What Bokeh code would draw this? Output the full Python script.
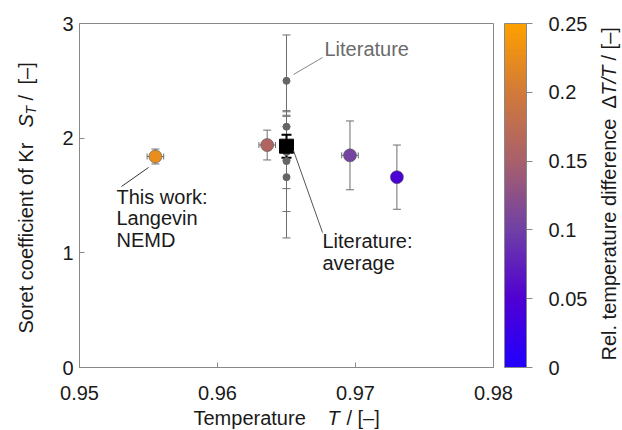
import math
import numpy as np
from bokeh.plotting import figure
from bokeh.layouts import row, column
from bokeh.models import (ColumnDataSource, ColorBar, LinearColorMapper, FixedTicker,
                          Whisker, TeeHead, Label, Range1d)
from bokeh.core.properties import value
from bokeh.transform import transform
from bokeh.embed import file_html
from bokeh.resources import INLINE

# ---------------- data ----------------
sim_T = [0.9555, 0.9636, 0.9696, 0.9730]
sim_T_err = [0.0006, 0.0006, 0.0006, 0.0002]
sim_st = [1.84, 1.94, 1.85, 1.66]
sim_st_err = [0.065, 0.13, 0.30, 0.28]
sim_dT = [0.225, 0.16, 0.105, 0.045]

lit_T = [0.965, 0.965, 0.965, 0.965, 0.965, 0.965]
lit_st = [2.50, 2.10, 1.92, 1.88, 1.80, 1.66]
lit_st_err = [0.40, 0.13, 0.11, 0.32, 0.44, 0.53]

avg_T = [0.965]
avg_st = [1.93]
avg_st_err = [0.10]

x_ticks = [0.95, 0.96, 0.97, 0.98]
y_ticks = [0, 1, 2, 3]
cb_ticks = [0, 0.05, 0.1, 0.15, 0.2, 0.25]
cb_labels = ["0", "0.05", "0.1", "0.15", "0.2", "0.25"]

# ---------------- colour palette ----------------
stops = [0.0, 0.2, 0.4, 0.6, 0.8, 1.0]
stop_cols = ["#2200ff", "#5000d2", "#7040a6", "#a8606c", "#d27a3a", "#ffa000"]
def _rgb(h):
    return [int(h[i:i + 2], 16) for i in (1, 3, 5)]
rgb = np.array([_rgb(c) for c in stop_cols], dtype=float)
palette = []
for tt in np.linspace(0, 1, 256):
    r, g, b = (np.interp(tt, stops, rgb[:, k]) for k in range(3))
    palette.append("#%02x%02x%02x" % (int(round(r)), int(round(g)), int(round(b))))

FONT = "Liberation Sans"
FS = "20px"
TXT = "#1a1a1a"

W, H = 622, 430
LEFT_W, RIGHT_W = 48, 30
TOP_H = 408                     # height of the upper row (strips + main plot)
BOTTOM_H = H - TOP_H            # full-width strip holding the x-axis title
MAIN_W = W - LEFT_W - RIGHT_W
FRAME_TOP, FRAME_BOTTOM = 23, 367

p = figure(width=MAIN_W, height=TOP_H, x_range=Range1d(0.95, 0.98), y_range=Range1d(0, 3),
           output_backend="svg", toolbar_location=None,
           min_border_left=79 - LEFT_W, min_border_right=99, min_border_top=FRAME_TOP,
           min_border_bottom=TOP_H - FRAME_BOTTOM)
p.grid.visible = False
p.outline_line_color = "#888888"

for ax in (p.xaxis[0], p.yaxis[0]):
    ax.axis_line_color = "#888888"
    ax.major_tick_line_color = "#888888"
    ax.major_tick_in = 5
    ax.major_tick_out = 0
    ax.minor_tick_line_color = None
    ax.major_label_text_font = FONT
    ax.major_label_text_font_size = FS
    ax.major_label_text_color = TXT
p.xaxis.ticker = FixedTicker(ticks=x_ticks)
p.yaxis.ticker = FixedTicker(ticks=y_ticks)
p.xaxis.major_label_standoff = 18
p.yaxis.major_label_standoff = 6

mapper = LinearColorMapper(palette=palette, low=0, high=0.25)

sim = ColumnDataSource(dict(
    T=sim_T, st=sim_st, dT=sim_dT,
    st_lo=[s - e for s, e in zip(sim_st, sim_st_err)],
    st_hi=[s + e for s, e in zip(sim_st, sim_st_err)],
    T_lo=[x - e for x, e in zip(sim_T, sim_T_err)],
    T_hi=[x + e for x, e in zip(sim_T, sim_T_err)],
))
lit = ColumnDataSource(dict(
    T=lit_T, st=lit_st,
    st_lo=[s - e for s, e in zip(lit_st, lit_st_err)],
    st_hi=[s + e for s, e in zip(lit_st, lit_st_err)],
))
avg = ColumnDataSource(dict(
    T=avg_T, st=avg_st,
    st_lo=[s - e for s, e in zip(avg_st, avg_st_err)],
    st_hi=[s + e for s, e in zip(avg_st, avg_st_err)],
))

GRAY = "#6e6e6e"
def tee(size, color, w=1):
    return TeeHead(size=size, line_color=color, line_width=w)

# literature values
p.add_layout(Whisker(source=lit, base="T", lower="st_lo", upper="st_hi", dimension="height",
                     line_color=GRAY, line_width=1,
                     lower_head=tee(8, GRAY), upper_head=tee(8, GRAY)))
p.scatter("T", "st", source=lit, size=7, color="#666666")

# this work (simulation)
p.add_layout(Whisker(source=sim, base="T", lower="st_lo", upper="st_hi", dimension="height",
                     line_color=GRAY, line_width=1,
                     lower_head=tee(8, GRAY), upper_head=tee(8, GRAY)))
p.add_layout(Whisker(source=sim, base="st", lower="T_lo", upper="T_hi", dimension="width",
                     line_color=GRAY, line_width=1,
                     lower_head=tee(6, GRAY), upper_head=tee(6, GRAY)))
p.scatter("T", "st", source=sim, size=13, fill_color=transform("dT", mapper),
          line_color="#555555", line_width=0.6)

# literature average
p.add_layout(Whisker(source=avg, base="T", lower="st_lo", upper="st_hi", dimension="height",
                     line_color="black", line_width=2,
                     lower_head=tee(10, "black", 2), upper_head=tee(10, "black", 2)))
p.scatter("T", "st", source=avg, marker="square", size=14, color="black")

# ---------------- colour bar ----------------
cb = ColorBar(color_mapper=mapper, width=22, height=344, padding=0, margin=0,
              location=(11, 0),
              ticker=FixedTicker(ticks=cb_ticks),
              major_label_overrides={k: v for k, v in zip(cb_ticks, cb_labels)},
              major_label_text_font=FONT, major_label_text_font_size=FS,
              major_label_text_color=TXT,
              major_tick_in=0, major_tick_out=6, major_tick_line_color="#888888",
              label_standoff=16, bar_line_color="#888888",
              background_fill_alpha=0, border_line_color=None)
p.add_layout(cb, "right")

# ---------------- in-plot annotations ----------------
def dx(px):
    return 0.95 + (px - 79) / 13800.0

def dy(py):
    return (367 - py) / (344 / 3.0)

def lab(px, py, text, color=TXT):
    p.add_layout(Label(x=dx(px), y=dy(py), text=text, text_font=FONT, text_font_size=FS,
                       text_color=color, text_align="left", text_baseline="middle"))

p.segment(x0=[dx(293)], y0=[dy(74)], x1=[dx(322)], y1=[dy(57)], line_color="#888888", line_width=1)
p.segment(x0=[dx(293)], y0=[dy(150)], x1=[dx(322)], y1=[dy(232)], line_color="#555555", line_width=1)
p.segment(x0=[dx(121)], y0=[dy(186)], x1=[dx(148)], y1=[dy(167)], line_color="#333333", line_width=1)

lab(324, 48, "Literature", color="#6a6a6a")
lab(322, 240, "Literature:")
lab(322, 262, "average")
lab(116, 196, "This work:")
lab(116, 217, "Langevin")
lab(116, 239, "NEMD")

# ---------------- label strips ----------------
def strip(w, h, yr=None):
    s = figure(width=w, height=h, x_range=Range1d(0, w),
               y_range=yr if yr is not None else Range1d(0, h),
               output_backend="svg", toolbar_location=None, x_axis_type=None, y_axis_type=None,
               min_border=0, min_border_left=0, min_border_right=0, min_border_top=0,
               min_border_bottom=0, outline_line_color=None)
    s.grid.visible = False
    s.title.visible = False
    return s

def stext(s, x, y, text, style="normal", size=FS, angle=0.0):
    s.text(x=[x], y=[y], text=[text], text_font=value(FONT), text_font_size=value(size),
           text_font_style=style, text_color=TXT, angle=angle,
           text_align="left", text_baseline="middle")

UP = math.pi / 2

# the side strips share the main plot's frame rows (Bokeh aligns frames in a row),
# so their data y is mapped so that y = TOP_H - canvas_y
def side_range():
    return Range1d(TOP_H - FRAME_BOTTOM, TOP_H - FRAME_TOP)

# y axis title (canvas x 0..48)
left = strip(LEFT_W, TOP_H, side_range())
stext(left, 25, TOP_H - 333, "Soret coefficient of Kr", angle=UP)
stext(left, 25, TOP_H - 127, "S", style="italic", angle=UP)
stext(left, 30, TOP_H - 114, "T", style="italic", size="14px", angle=UP)
stext(left, 25, TOP_H - 100, "/", angle=UP)
stext(left, 25, TOP_H - 84, "[–]", angle=UP)

# colour bar title (canvas x 592..622)
right = strip(RIGHT_W, TOP_H, side_range())
rx = 608 - (W - RIGHT_W)
stext(right, rx, TOP_H - 360, "Rel. temperature difference", angle=UP)
stext(right, rx, TOP_H - 108, "Δ", angle=UP)
stext(right, rx, TOP_H - 95, "T/T", style="italic", angle=UP)
stext(right, rx, TOP_H - 60, "/ [–]", angle=UP)

# x axis title (full width, canvas y TOP_H..430)
bottom = strip(W, BOTTOM_H)
by = H - 417
stext(bottom, 193, by, "Temperature")
stext(bottom, 327, by, "T", style="italic")
stext(bottom, 346, by, "/")
stext(bottom, 357, by, "[–]")

layout = column(row(left, p, right), bottom)
open("out.html", "w").write(file_html(layout, INLINE))
